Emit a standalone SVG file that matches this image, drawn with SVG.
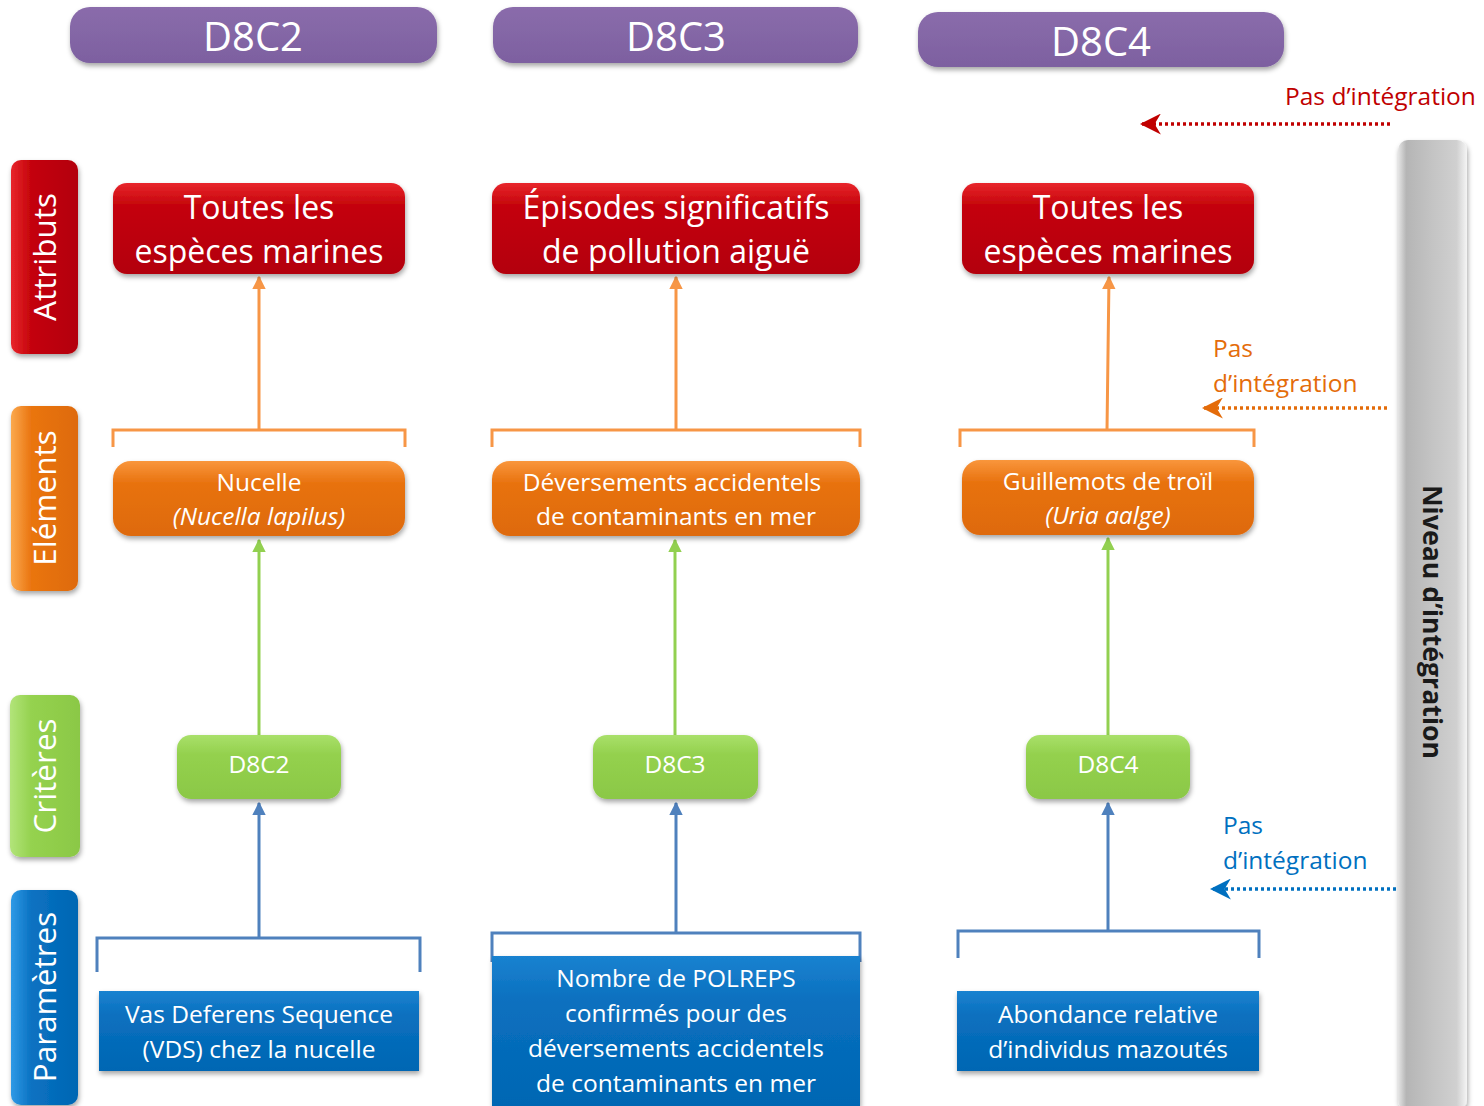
<svg xmlns="http://www.w3.org/2000/svg" width="1484" height="1106" viewBox="0 0 1484 1106">
<style>
text{font-family:"Open Sans","Liberation Sans",sans-serif;}
.w{fill:#fff;text-anchor:middle;}
.hd{font-size:40px;}
.big{font-size:32px;}
.mid{font-size:24.5px;}
.lab{font-size:31.5px;}
.pi{font-size:24.5px;}
.con{fill:none;stroke-width:3;}
.dot{fill:none;stroke-width:3.5;stroke-dasharray:3 3;}
</style>
<defs>
<filter id="sh" x="-10%" y="-10%" width="120%" height="130%"><feDropShadow dx="1" dy="3" stdDeviation="2.5" flood-color="#000" flood-opacity="0.35"/></filter>
<linearGradient id="gP" x1="0" y1="0" x2="0" y2="1"><stop offset="0" stop-color="#8a6cab"/><stop offset="1" stop-color="#7d60a0"/></linearGradient>
<linearGradient id="gR" x1="0" y1="0" x2="0" y2="1"><stop offset="0" stop-color="#e8252b"/><stop offset="0.25" stop-color="#c4040b"/><stop offset="1" stop-color="#b30008"/></linearGradient>
<linearGradient id="gO" x1="0" y1="0" x2="0" y2="1"><stop offset="0" stop-color="#f9963c"/><stop offset="0.3" stop-color="#e8720f"/><stop offset="1" stop-color="#de6a0a"/></linearGradient>
<linearGradient id="gG" x1="0" y1="0" x2="0" y2="1"><stop offset="0" stop-color="#a9e06a"/><stop offset="0.3" stop-color="#94d14e"/><stop offset="1" stop-color="#8bc846"/></linearGradient>
<linearGradient id="gB" x1="0" y1="0" x2="0" y2="1"><stop offset="0" stop-color="#1a82d0"/><stop offset="0.3" stop-color="#0a70bf"/><stop offset="1" stop-color="#0066b3"/></linearGradient>
<linearGradient id="gRv" x1="0" y1="0" x2="1" y2="0"><stop offset="0" stop-color="#e8252b"/><stop offset="0.3" stop-color="#c4040b"/><stop offset="1" stop-color="#b30008"/></linearGradient>
<linearGradient id="gOv" x1="0" y1="0" x2="1" y2="0"><stop offset="0" stop-color="#fba94e"/><stop offset="0.3" stop-color="#ea7510"/><stop offset="1" stop-color="#de6a0a"/></linearGradient>
<linearGradient id="gGv" x1="0" y1="0" x2="1" y2="0"><stop offset="0" stop-color="#b2e47a"/><stop offset="0.3" stop-color="#95d24f"/><stop offset="1" stop-color="#8bc846"/></linearGradient>
<linearGradient id="gBv" x1="0" y1="0" x2="1" y2="0"><stop offset="0" stop-color="#2f9ae6"/><stop offset="0.3" stop-color="#0a72c2"/><stop offset="1" stop-color="#0066b3"/></linearGradient>
<linearGradient id="gGr" x1="0" y1="0" x2="1" y2="0"><stop offset="0" stop-color="#e6e6e6"/><stop offset="0.12" stop-color="#b5b5b5"/><stop offset="0.5" stop-color="#c4c4c4"/><stop offset="0.85" stop-color="#d0d0d0"/><stop offset="1" stop-color="#f5f5f5"/></linearGradient>
<marker id="aO" viewBox="0 0 10 10" refX="9" refY="5" markerWidth="4.5" markerHeight="4.5" orient="auto"><path d="M0,0L10,5L0,10z" fill="#f79646"/></marker>
<marker id="aG" viewBox="0 0 10 10" refX="9" refY="5" markerWidth="4.5" markerHeight="4.5" orient="auto"><path d="M0,0L10,5L0,10z" fill="#92d050"/></marker>
<marker id="aB" viewBox="0 0 10 10" refX="9" refY="5" markerWidth="4.5" markerHeight="4.5" orient="auto"><path d="M0,0L10,5L0,10z" fill="#4f81bd"/></marker>
<marker id="dR" viewBox="0 0 10 10" refX="9" refY="5" markerWidth="6" markerHeight="6" orient="auto"><path d="M0,0L10,5L0,10L3,5z" fill="#c00000"/></marker>
<marker id="dO" viewBox="0 0 10 10" refX="9" refY="5" markerWidth="6" markerHeight="6" orient="auto"><path d="M0,0L10,5L0,10L3,5z" fill="#e46c0a"/></marker>
<marker id="dB" viewBox="0 0 10 10" refX="9" refY="5" markerWidth="6" markerHeight="6" orient="auto"><path d="M0,0L10,5L0,10L3,5z" fill="#0070c0"/></marker>
</defs>

<g id="headers">
<g id="h-d8c2"><rect x="70" y="7" width="367" height="56" rx="20" fill="url(#gP)" filter="url(#sh)"/><text class="w hd" x="253" y="51">D8C2</text></g>
<g id="h-d8c3"><rect x="493" y="7" width="365" height="56" rx="20" fill="url(#gP)" filter="url(#sh)"/><text class="w hd" x="676" y="51">D8C3</text></g>
<g id="h-d8c4"><rect x="918" y="12" width="366" height="55" rx="20" fill="url(#gP)" filter="url(#sh)"/><text class="w hd" x="1101" y="56">D8C4</text></g>
</g>

<g id="levels">
<g id="lv-attributs"><rect x="11" y="160" width="67" height="194" rx="10" fill="url(#gRv)" filter="url(#sh)"/><text class="w lab" transform="translate(56,257) rotate(-90)">Attributs</text></g>
<g id="lv-elements"><rect x="11" y="406" width="67" height="185" rx="10" fill="url(#gOv)" filter="url(#sh)"/><text class="w lab" transform="translate(56,498) rotate(-90)">Eléments</text></g>
<g id="lv-criteres"><rect x="10" y="695" width="70" height="162" rx="10" fill="url(#gGv)" filter="url(#sh)"/><text class="w lab" transform="translate(56,776) rotate(-90)">Critères</text></g>
<g id="lv-parametres"><rect x="11" y="890" width="67" height="215" rx="10" fill="url(#gBv)" filter="url(#sh)"/><text class="w lab" transform="translate(56,997) rotate(-90)">Paramètres</text></g>
</g>

<g id="connectors">
<path class="con" stroke="#f79646" d="M113,447V430H405V447M259,430V277" marker-end="url(#aO)"/>
<path class="con" stroke="#f79646" d="M492,447V430H860V447M676,430V277" marker-end="url(#aO)"/>
<path class="con" stroke="#f79646" d="M960,447V430H1254V447M1107,430L1109,277" marker-end="url(#aO)"/>
<path class="con" stroke="#92d050" d="M259,735V540" marker-end="url(#aG)"/>
<path class="con" stroke="#92d050" d="M675,735V540" marker-end="url(#aG)"/>
<path class="con" stroke="#92d050" d="M1108,735V538" marker-end="url(#aG)"/>
<path class="con" stroke="#4f81bd" d="M97,972V938H420V972M259,938V803" marker-end="url(#aB)"/>
<path class="con" stroke="#4f81bd" d="M492,962V933H860V962M676,933V803" marker-end="url(#aB)"/>
<path class="con" stroke="#4f81bd" d="M958,958V931H1259V958M1108,931V803" marker-end="url(#aB)"/>
<path class="dot" stroke="#c00000" d="M1390,124H1142" marker-end="url(#dR)"/>
<path class="dot" stroke="#e46c0a" d="M1387,408H1204" marker-end="url(#dO)"/>
<path class="dot" stroke="#0070c0" d="M1396,889H1212" marker-end="url(#dB)"/>
</g>

<g id="attr-1"><rect x="113" y="183" width="292" height="91" rx="14" fill="url(#gR)" filter="url(#sh)"/><text class="w big" x="259" y="219">Toutes les</text><text class="w big" x="259" y="263">espèces marines</text></g>
<g id="attr-2"><rect x="492" y="183" width="368" height="91" rx="14" fill="url(#gR)" filter="url(#sh)"/><text class="w big" x="676" y="219">Épisodes significatifs</text><text class="w big" x="676" y="263">de pollution aiguë</text></g>
<g id="attr-3"><rect x="962" y="183" width="292" height="91" rx="14" fill="url(#gR)" filter="url(#sh)"/><text class="w big" x="1108" y="219">Toutes les</text><text class="w big" x="1108" y="263">espèces marines</text></g>

<g id="elem-1"><rect x="113" y="461" width="292" height="75" rx="18" fill="url(#gO)" filter="url(#sh)"/><text class="w mid" x="259" y="491">Nucelle</text><text class="w mid" x="259" y="525" font-style="italic">(Nucella lapilus)</text></g>
<g id="elem-2"><rect x="492" y="461" width="368" height="75" rx="18" fill="url(#gO)" filter="url(#sh)"/><text class="w mid" x="672" y="491">Déversements accidentels</text><text class="w mid" x="676" y="525">de contaminants en mer</text></g>
<g id="elem-3"><rect x="962" y="460" width="292" height="75" rx="18" fill="url(#gO)" filter="url(#sh)"/><text class="w mid" x="1108" y="490">Guillemots de troïl</text><text class="w mid" x="1108" y="524" font-style="italic">(Uria aalge)</text></g>

<g id="crit-1"><rect x="177" y="735" width="164" height="64" rx="14" fill="url(#gG)" filter="url(#sh)"/><text class="w mid" x="259" y="773">D8C2</text></g>
<g id="crit-2"><rect x="593" y="735" width="165" height="64" rx="14" fill="url(#gG)" filter="url(#sh)"/><text class="w mid" x="675" y="773">D8C3</text></g>
<g id="crit-3"><rect x="1026" y="735" width="164" height="64" rx="14" fill="url(#gG)" filter="url(#sh)"/><text class="w mid" x="1108" y="773">D8C4</text></g>

<g id="param-1"><rect x="99" y="991" width="320" height="80" fill="url(#gB)" filter="url(#sh)"/><text class="w mid" x="259" y="1023">Vas Deferens Sequence</text><text class="w mid" x="259" y="1058">(VDS) chez la nucelle</text></g>
<g id="param-2"><rect x="492" y="956" width="368" height="150" fill="url(#gB)" filter="url(#sh)"/><text class="w mid" x="676" y="987">Nombre de POLREPS</text><text class="w mid" x="676" y="1022">confirmés pour des</text><text class="w mid" x="676" y="1057">déversements accidentels</text><text class="w mid" x="676" y="1092">de contaminants en mer</text></g>
<g id="param-3"><rect x="957" y="991" width="302" height="80" fill="url(#gB)" filter="url(#sh)"/><text class="w mid" x="1108" y="1023">Abondance relative</text><text class="w mid" x="1108" y="1058">d’individus mazoutés</text></g>

<g id="niveau"><rect x="1398" y="140" width="69" height="970" rx="10" fill="url(#gGr)" filter="url(#sh)"/><text transform="translate(1423,622) rotate(90)" text-anchor="middle" font-size="26.7" font-weight="bold" fill="#1a1a1a">Niveau d’intégration</text></g>

<g id="labels">
<text class="pi" x="1285" y="105" fill="#c00000">Pas d’intégration</text>
<text class="pi" x="1213" y="357" fill="#e46c0a">Pas</text><text class="pi" x="1213" y="392" fill="#e46c0a">d’intégration</text>
<text class="pi" x="1223" y="834" fill="#0070c0">Pas</text><text class="pi" x="1223" y="869" fill="#0070c0">d’intégration</text>
</g>
</svg>
